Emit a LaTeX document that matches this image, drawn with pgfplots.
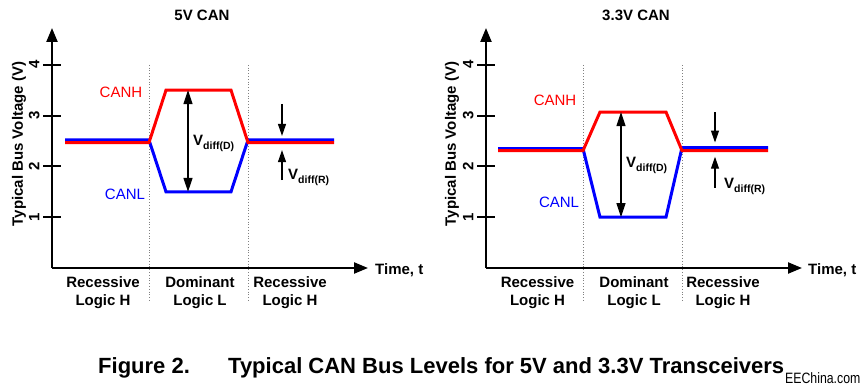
\documentclass[border=0pt]{standalone}
\usepackage{pgfplots}
\pgfplotsset{compat=1.18}
\usepackage{fontspec}
\setmainfont{Liberation Sans}
\newfontfamily\narrowfont[FakeStretch=0.82]{Liberation Sans}
\usetikzlibrary{arrows.meta}
\definecolor{canh}{RGB}{255,0,0}
\definecolor{canl}{RGB}{0,0,255}
\newcommand{\lbl}{\bfseries\fontsize{15}{18}\selectfont}
\pgfplotsset{canstyle/.style={
  scale only axis, width=316pt, height=240pt,
  xmin=0, xmax=316, ymin=0, ymax=4.724,
  axis lines=left, clip=false,
  axis line style={line width=2.2pt, -{Triangle[length=14pt,width=11pt]}},
  xtick=\empty, ytick={1,2,3,4},
  tick align=center, major tick length=18pt,
  major tick style={line width=2pt, black},
  yticklabel style={rotate=90, anchor=south, font=\lbl},
  /pgf/number format/assume math mode=true,
}}
\begin{document}
\begin{tikzpicture}
\useasboundingbox (0,0) rectangle (862pt,391pt);
% ---------- 5V CAN ----------
\begin{axis}[canstyle, at={(52pt,123pt)}, anchor=south west]
\addplot[gray, dotted, line width=0.8pt] coordinates {(97,4.0)(97,-0.67)};
\addplot[gray, dotted, line width=0.8pt] coordinates {(196,4.0)(196,-0.67)};
\addplot[canl, line width=3pt] coordinates {(13,2.52)(97,2.52)(114,1.5)(179,1.5)(196,2.52)(282,2.52)};
\addplot[canh, line width=3pt] coordinates {(13,2.47)(97,2.47)(114,3.5)(179,3.5)(196,2.47)(282,2.47)};
\addplot[black, line width=1.2pt, {Triangle[length=14pt,width=9pt]}-{Triangle[length=14pt,width=9pt]}] coordinates {(136,3.5)(136,1.5)};
\addplot[black, line width=1.2pt, -{Triangle[length=12pt,width=8pt]}] coordinates {(230,3.23)(230,2.6)};
\addplot[black, line width=1.2pt, -{Triangle[length=12pt,width=8pt]}] coordinates {(230,1.73)(230,2.32)};
\node[canh, font=\fontsize{15}{18}\selectfont] at (axis cs:69,3.45) {CANH};
\node[canl, font=\fontsize{15}{18}\selectfont] at (axis cs:73,1.45) {CANL};
\node[anchor=west, inner sep=0, font=\lbl] at (axis cs:141,2.45) {V\raisebox{-3.5pt}{\fontsize{10.5}{12}\selectfont diff(D)}};
\node[anchor=west, inner sep=0, font=\lbl] at (axis cs:236,1.78) {V\raisebox{-3.5pt}{\fontsize{10.5}{12}\selectfont diff(R)}};
\node[font=\lbl] at (axis cs:150,4.98) {5V CAN};
\node[rotate=90, font=\lbl] at (axis cs:-33,2.44) {Typical Bus Voltage (V)};
\node[anchor=west, inner sep=0, font=\lbl] at (axis cs:323,-0.04) {Time, t};
\node[align=center, inner sep=0, font=\lbl] at (axis cs:51,-0.49) {Recessive\\Logic H};
\node[align=center, inner sep=0, font=\lbl] at (axis cs:148,-0.49) {Dominant\\Logic L};
\node[align=center, inner sep=0, font=\lbl] at (axis cs:238,-0.49) {Recessive\\Logic H};
\end{axis}
% ---------- 3.3V CAN ----------
\begin{axis}[canstyle, at={(486pt,123pt)}, anchor=south west]
\addplot[gray, dotted, line width=0.8pt] coordinates {(97,4.0)(97,-0.67)};
\addplot[gray, dotted, line width=0.8pt] coordinates {(196,4.0)(196,-0.67)};
\addplot[canl, line width=3pt] coordinates {(12,2.35)(97,2.35)(114,1.0)(180,1.0)(196,2.37)(282,2.37)};
\addplot[canh, line width=3pt] coordinates {(12,2.31)(97,2.31)(114,3.07)(180,3.07)(196,2.31)(282,2.31)};
\addplot[black, line width=1.2pt, {Triangle[length=14pt,width=9pt]}-{Triangle[length=14pt,width=9pt]}] coordinates {(135,3.07)(135,1.0)};
\addplot[black, line width=1.2pt, -{Triangle[length=12pt,width=8pt]}] coordinates {(229,3.07)(229,2.47)};
\addplot[black, line width=1.2pt, -{Triangle[length=12pt,width=8pt]}] coordinates {(229,1.58)(229,2.19)};
\node[canh, font=\fontsize{15}{18}\selectfont] at (axis cs:69,3.31) {CANH};
\node[canl, font=\fontsize{15}{18}\selectfont] at (axis cs:73,1.30) {CANL};
\node[anchor=west, inner sep=0, font=\lbl] at (axis cs:140,2.02) {V\raisebox{-3.5pt}{\fontsize{10.5}{12}\selectfont diff(D)}};
\node[anchor=west, inner sep=0, font=\lbl] at (axis cs:238,1.61) {V\raisebox{-3.5pt}{\fontsize{10.5}{12}\selectfont diff(R)}};
\node[font=\lbl] at (axis cs:150,4.98) {3.3V CAN};
\node[rotate=90, font=\lbl] at (axis cs:-34,2.44) {Typical Bus Voltage (V)};
\node[anchor=west, inner sep=0, font=\lbl] at (axis cs:322,-0.04) {Time, t};
\node[align=center, inner sep=0, font=\lbl] at (axis cs:51.5,-0.49) {Recessive\\Logic H};
\node[align=center, inner sep=0, font=\lbl] at (axis cs:148,-0.49) {Dominant\\Logic L};
\node[align=center, inner sep=0, font=\lbl] at (axis cs:237,-0.49) {Recessive\\Logic H};
\end{axis}
% ---------- caption ----------
\node[anchor=base west, inner sep=0, font=\bfseries\fontsize{22}{26}\selectfont] at (98pt,18pt) {Figure 2.};
\node[anchor=base west, inner sep=0, font=\bfseries\fontsize{22}{26}\selectfont] at (228pt,18pt) {Typical CAN Bus Levels for 5V and 3.3V Transceivers};
\node[anchor=base west, inner sep=0, font=\narrowfont\fontsize{15}{18}\selectfont] at (785pt,8pt) {EEChina.com};
\end{tikzpicture}
\end{document}
